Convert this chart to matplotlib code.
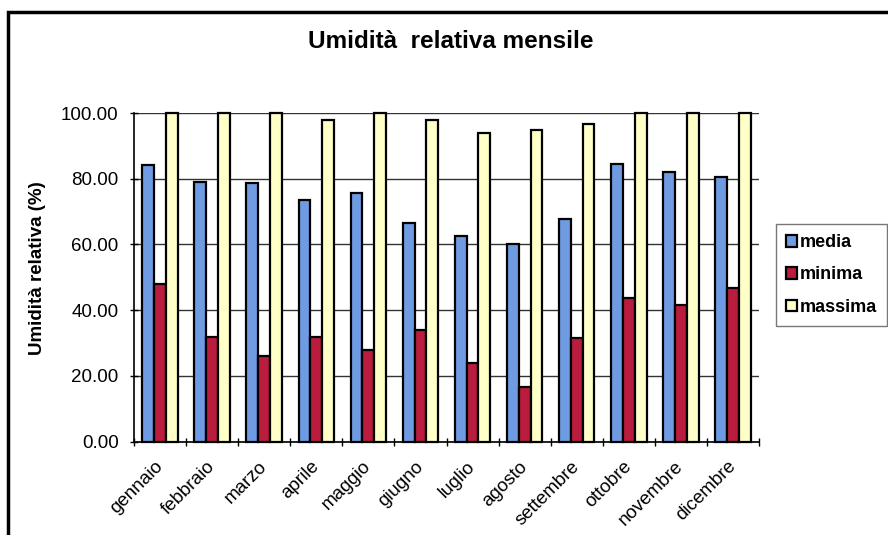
import matplotlib
matplotlib.use("Agg")
import matplotlib.pyplot as plt
import numpy as np
from matplotlib.patches import Rectangle

months = ["gennaio", "febbraio", "marzo", "aprile", "maggio", "giugno",
          "luglio", "agosto", "settembre", "ottobre", "novembre", "dicembre"]
media = [84.2, 79.1, 78.7, 73.4, 75.7, 66.6, 62.6, 60.0, 67.7, 84.6, 82.2, 80.5]
minima = [48.1, 32.0, 26.1, 31.8, 27.9, 34.1, 23.9, 16.7, 31.7, 43.7, 41.7, 46.8]
massima = [100.0, 100.0, 100.0, 97.9, 100.0, 97.9, 93.9, 94.7, 96.6, 100.0, 100.0, 100.0]
yticks = [0, 20, 40, 60, 80, 100]

plt.rcParams['font.family'] = ['Liberation Sans', 'DejaVu Sans']

fig = plt.figure(figsize=(8.88, 5.35), dpi=100)
ax = fig.add_axes([134/888, 1-441.7/535, (759-134)/888, (441.7-113)/535])

x = np.arange(len(months))
w = 0.227
cols = ["#6f9be3", "#b91c3c", "#ffffc8"]
for i, (vals, lab) in enumerate([(media, "media"), (minima, "minima"), (massima, "massima")]):
    bars = ax.bar(x + (i - 1) * w, vals, width=w, color=cols[i], edgecolor="black",
                  linewidth=1.6, label=lab, zorder=3)
    for b in bars:
        b.set_clip_on(False)

ax.set_xlim(-0.5, len(months) - 0.5)
ax.set_ylim(0, 100)
ax.set_yticks(yticks)
ax.set_yticklabels([f"{v:.2f}" for v in yticks], fontsize=13.5)
ax.set_xticks(x)
ax.set_xticklabels(months, rotation=45, ha="right", va="center",
                   rotation_mode="anchor", fontsize=13.5)
ax.tick_params(axis="x", length=0, pad=16)
ax.set_xticks(np.arange(-0.5, len(months)), minor=True)
ax.tick_params(axis="x", which="minor", length=6, direction="inout", width=1)
ax.tick_params(axis="y", length=6, width=1, direction="inout", pad=8)
ax.yaxis.grid(True, color="#333333", linewidth=1.0, zorder=0)
for s in ["top", "right"]:
    ax.spines[s].set_visible(False)
for s in ["left", "bottom"]:
    ax.spines[s].set_linewidth(1.2)

ax.set_ylabel("Umidità relativa (%)", fontsize=13.5, fontweight="bold")
ax.yaxis.set_label_coords(46/888, 1-268/535, transform=fig.transFigure)
fig.text(451/888, 1-42/535, "Umidità  relativa mensile", ha="center", va="center",
         fontsize=17.5, fontweight="bold")

leg = ax.legend(loc="center left", bbox_to_anchor=(776/888, 1-275/535),
                bbox_transform=fig.transFigure, prop={"size": 13, "weight": "bold"},
                frameon=True, fancybox=False, edgecolor="#555555", handlelength=0.6,
                handleheight=0.6, handletextpad=0.15, labelspacing=0.85,
                borderpad=0.55, borderaxespad=0)
leg.get_frame().set_linewidth(1.0)

fig.patches.append(Rectangle((8/888, -0.2), 1.0, 1 - 12/535 + 0.2,
                             transform=fig.transFigure, fill=False,
                             edgecolor="black", linewidth=2.5))

fig.savefig("out.png", dpi=100)
